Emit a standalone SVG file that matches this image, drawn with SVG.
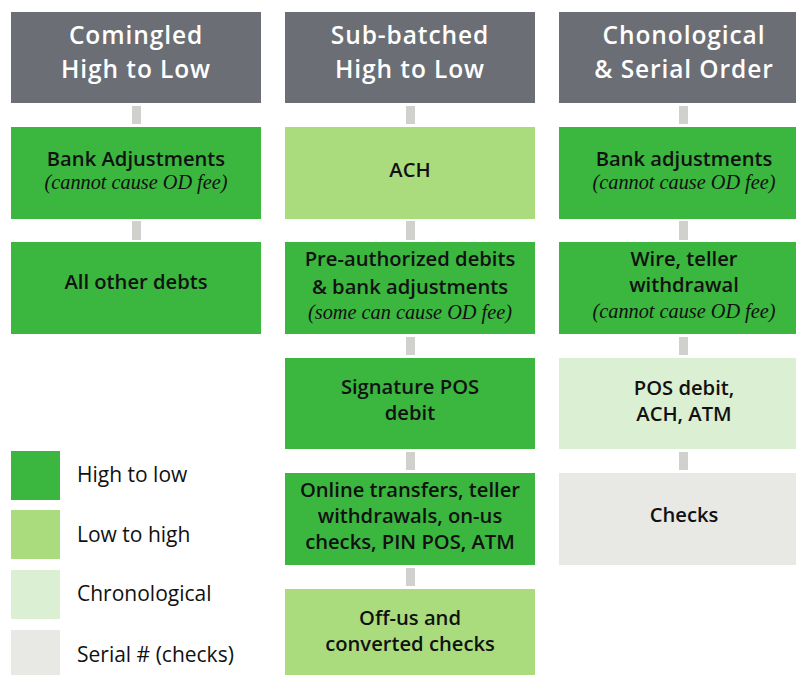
<svg xmlns="http://www.w3.org/2000/svg" width="796" height="675" viewBox="0 0 796 675">
<style>
.hdr{fill:#6b6e74}
.dg{fill:#3bb63f}
.lg{fill:#aadc7e}
.ch{fill:#dbefd2}
.se{fill:#e8e8e4}
.cn{fill:#d0d0cc}
.ht{font-family:"Open Sans","Noto Sans",sans-serif;font-weight:600;font-size:24.5px;letter-spacing:0.9px;fill:#fff;text-anchor:middle}
.bt{font-family:"Open Sans","Noto Sans",sans-serif;font-weight:600;font-size:20.2px;fill:#111;text-anchor:middle}
.it{font-family:"Liberation Serif",serif;font-style:italic;font-size:20.3px;fill:#111;text-anchor:middle}
.lt{font-family:"Open Sans","Noto Sans",sans-serif;font-size:21px;fill:#111}
</style>
<rect width="796" height="675" fill="#fff"/>
<g id="connectors">
<rect class="cn" x="132" y="106" width="9" height="18"/>
<rect class="cn" x="132" y="221" width="9" height="19"/>
<rect class="cn" x="406" y="106" width="9" height="18"/>
<rect class="cn" x="406" y="221" width="9" height="19"/>
<rect class="cn" x="406" y="337" width="9" height="18"/>
<rect class="cn" x="406" y="452" width="9" height="18"/>
<rect class="cn" x="406" y="568" width="9" height="18"/>
<rect class="cn" x="679" y="106" width="9" height="18"/>
<rect class="cn" x="679" y="221" width="9" height="19"/>
<rect class="cn" x="679" y="337" width="9" height="18"/>
<rect class="cn" x="679" y="452" width="9" height="18"/>
</g>
<g id="h1"><rect class="hdr" x="11" y="12" width="250" height="91"/><text class="ht" x="136" y="44">Comingled</text><text class="ht" x="136" y="78">High to Low</text></g>
<g id="h2"><rect class="hdr" x="285" y="12" width="250" height="91"/><text class="ht" x="410" y="44">Sub-batched</text><text class="ht" x="410" y="78">High to Low</text></g>
<g id="h3"><rect class="hdr" x="559" y="12" width="250" height="91"/><text class="ht" x="684" y="44">Chonological</text><text class="ht" x="684" y="78">&amp; Serial Order</text></g>
<g id="c1b1"><rect class="dg" x="11" y="127" width="250" height="92"/><text class="bt" x="136" y="166">Bank Adjustments</text><text class="it" x="136" y="189">(cannot cause OD fee)</text></g>
<g id="c1b2"><rect class="dg" x="11" y="242" width="250" height="92"/><text class="bt" x="136" y="289">All other debts</text></g>
<g id="c2b1"><rect class="lg" x="285" y="127" width="250" height="92"/><text class="bt" x="410" y="177">ACH</text></g>
<g id="c2b2"><rect class="dg" x="285" y="242" width="250" height="92"/><text class="bt" x="410" y="266">Pre-authorized debits</text><text class="bt" x="410" y="294">&amp; bank adjustments</text><text class="it" x="410" y="319">(some can cause OD fee)</text></g>
<g id="c2b3"><rect class="dg" x="285" y="358" width="250" height="91"/><text class="bt" x="410" y="394">Signature POS</text><text class="bt" x="410" y="420">debit</text></g>
<g id="c2b4"><rect class="dg" x="285" y="473" width="250" height="92"/><text class="bt" x="410" y="497">Online transfers, teller</text><text class="bt" x="410" y="523">withdrawals, on-us</text><text class="bt" x="410" y="549">checks, PIN POS, ATM</text></g>
<g id="c2b5"><rect class="lg" x="285" y="589" width="250" height="92"/><text class="bt" x="410" y="625">Off-us and</text><text class="bt" x="410" y="651">converted checks</text></g>
<g id="c3b1"><rect class="dg" x="559" y="127" width="250" height="92"/><text class="bt" x="684" y="166">Bank adjustments</text><text class="it" x="684" y="189">(cannot cause OD fee)</text></g>
<g id="c3b2"><rect class="dg" x="559" y="242" width="250" height="92"/><text class="bt" x="684" y="266">Wire, teller</text><text class="bt" x="684" y="292">withdrawal</text><text class="it" x="684" y="318">(cannot cause OD fee)</text></g>
<g id="c3b3"><rect class="ch" x="559" y="358" width="250" height="91"/><text class="bt" x="684" y="395">POS debit,</text><text class="bt" x="684" y="421">ACH, ATM</text></g>
<g id="c3b4"><rect class="se" x="559" y="473" width="250" height="92"/><text class="bt" x="684" y="522">Checks</text></g>
<g id="legend">
<rect class="dg" x="11" y="451" width="49" height="49"/><text class="lt" x="77" y="482">High to low</text>
<rect class="lg" x="11" y="510" width="49" height="49"/><text class="lt" x="77" y="542">Low to high</text>
<rect class="ch" x="11" y="570" width="49" height="49"/><text class="lt" x="77" y="601">Chronological</text>
<rect class="se" x="11" y="630" width="49" height="49"/><text class="lt" x="77" y="662">Serial # (checks)</text>
</g>
</svg>
